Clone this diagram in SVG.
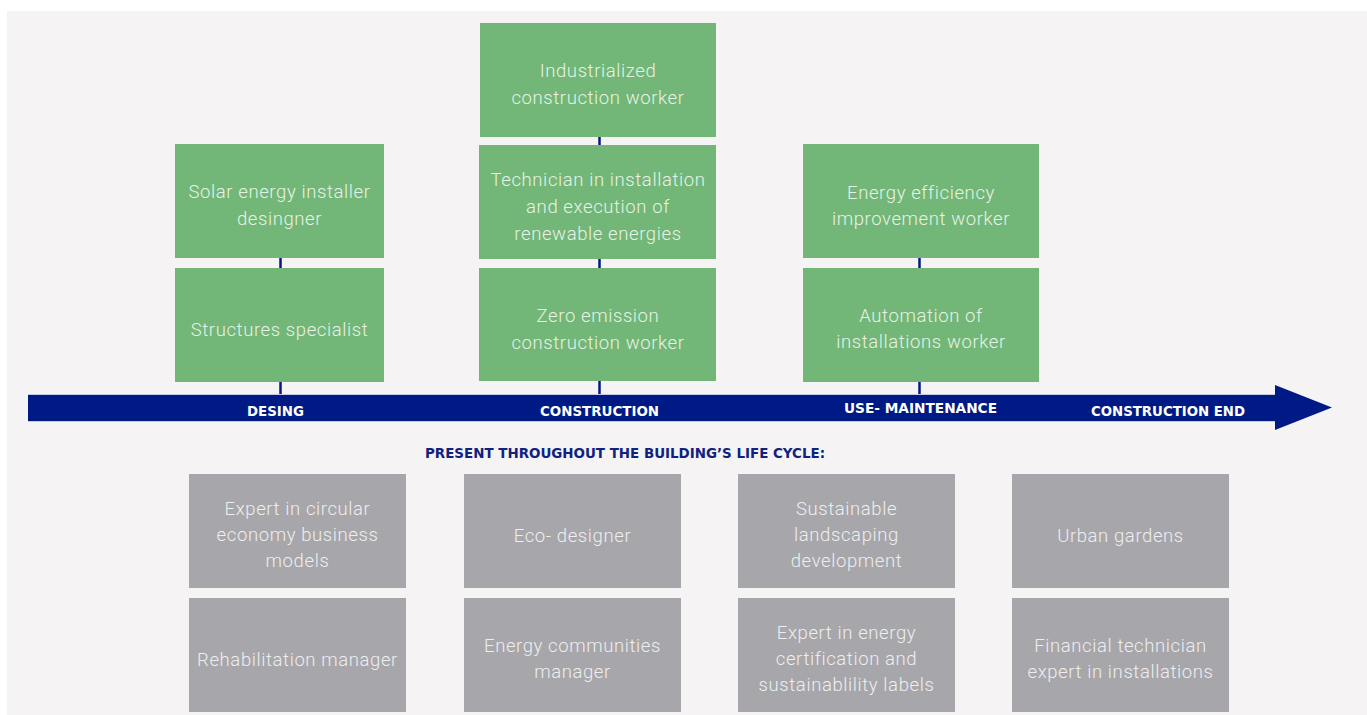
<svg xmlns="http://www.w3.org/2000/svg" width="1367" height="715" viewBox="0 0 1367 715">
<style>
.bg{fill:#f5f3f4}
.g{fill:#72b777}
.s{fill:#a7a6aa}
.tg{font-family:Roboto,"Open Sans",sans-serif;font-weight:300;font-size:18.5px;letter-spacing:0.6px;fill:#e8f2e6;text-anchor:middle}
.ts{font-family:Roboto,"Open Sans",sans-serif;font-weight:300;font-size:18.5px;letter-spacing:0.6px;fill:#eeeef0;text-anchor:middle}
.lbl{font-family:"DejaVu Sans Condensed","DejaVu Sans",sans-serif;font-weight:bold;font-size:14.5px;fill:#ffffff}
.hd{font-family:"DejaVu Sans Condensed","DejaVu Sans",sans-serif;font-weight:bold;font-size:14.5px;fill:#0f2280}
.c{stroke:#001a85;stroke-width:2.5;fill:none}
</style>
<rect x="0" y="0" width="1367" height="715" fill="#ffffff"/>
<rect class="bg" x="7" y="11" width="1360" height="704"/>

<g id="timeline">
<polygon points="28,394 1275,394 1275,385 1332,407.5 1275,430 1275,422 28,422" fill="#001a85"/>
<line x1="28" y1="394.5" x2="1275" y2="394.5" stroke="#c3c8e4" stroke-width="1"/>
<line x1="28" y1="421.5" x2="1275" y2="421.5" stroke="#c3c8e4" stroke-width="1"/>
<text class="lbl" x="247" y="416" textLength="57" lengthAdjust="spacingAndGlyphs">DESING</text>
<text class="lbl" x="540" y="416" textLength="119" lengthAdjust="spacingAndGlyphs">CONSTRUCTION</text>
<text class="lbl" x="844" y="413" textLength="153" lengthAdjust="spacingAndGlyphs">USE- MAINTENANCE</text>
<text class="lbl" x="1091" y="416" textLength="154" lengthAdjust="spacingAndGlyphs">CONSTRUCTION END</text>
</g>

<g id="connectors">
<line class="c" x1="280.5" y1="258" x2="280.5" y2="268"/>
<line class="c" x1="280.5" y1="382" x2="280.5" y2="394"/>
<line class="c" x1="599.5" y1="137" x2="599.5" y2="145"/>
<line class="c" x1="599.5" y1="259" x2="599.5" y2="268"/>
<line class="c" x1="599.5" y1="381" x2="599.5" y2="394"/>
<line class="c" x1="919.5" y1="258" x2="919.5" y2="268"/>
<line class="c" x1="919.5" y1="382" x2="919.5" y2="394"/>
</g>

<g id="solar"><rect class="g" x="175" y="144" width="209" height="114"/>
<text class="tg" x="279.5" y="198">Solar energy installer</text>
<text class="tg" x="279.5" y="225">desingner</text></g>
<g id="structures"><rect class="g" x="175" y="268" width="209" height="114"/>
<text class="tg" x="279.5" y="336">Structures specialist</text></g>

<g id="industrialized"><rect class="g" x="480" y="23" width="236" height="114"/>
<text class="tg" x="598" y="77">Industrialized</text>
<text class="tg" x="598" y="104">construction worker</text></g>
<g id="technician"><rect class="g" x="479" y="145" width="237" height="114"/>
<text class="tg" x="598" y="186">Technician in installation</text>
<text class="tg" x="598" y="213">and execution of</text>
<text class="tg" x="598" y="240">renewable energies</text></g>
<g id="zeroemission"><rect class="g" x="479" y="268" width="237" height="113"/>
<text class="tg" x="598" y="322">Zero emission</text>
<text class="tg" x="598" y="349">construction worker</text></g>

<g id="efficiency"><rect class="g" x="803" y="144" width="236" height="114"/>
<text class="tg" x="921" y="199">Energy efficiency</text>
<text class="tg" x="921" y="225">improvement worker</text></g>
<g id="automation"><rect class="g" x="803" y="268" width="236" height="114"/>
<text class="tg" x="921" y="322">Automation of</text>
<text class="tg" x="921" y="348">installations worker</text></g>

<g id="heading"><text class="hd" x="425" y="458" textLength="400" lengthAdjust="spacingAndGlyphs">PRESENT THROUGHOUT THE BUILDING’S LIFE CYCLE:</text></g>

<g id="circular"><rect class="s" x="189" y="474" width="217" height="114"/>
<text class="ts" x="297.5" y="515">Expert in circular</text>
<text class="ts" x="297.5" y="541">economy business</text>
<text class="ts" x="297.5" y="567">models</text></g>
<g id="ecodesigner"><rect class="s" x="464" y="474" width="217" height="114"/>
<text class="ts" x="572.5" y="542">Eco- designer</text></g>
<g id="landscaping"><rect class="s" x="738" y="474" width="217" height="114"/>
<text class="ts" x="846.5" y="515">Sustainable</text>
<text class="ts" x="846.5" y="541">landscaping</text>
<text class="ts" x="846.5" y="567">development</text></g>
<g id="gardens"><rect class="s" x="1012" y="474" width="217" height="114"/>
<text class="ts" x="1120.5" y="542">Urban gardens</text></g>

<g id="rehabilitation"><rect class="s" x="189" y="598" width="217" height="114"/>
<text class="ts" x="297.5" y="666">Rehabilitation manager</text></g>
<g id="communities"><rect class="s" x="464" y="598" width="217" height="114"/>
<text class="ts" x="572.5" y="652">Energy communities</text>
<text class="ts" x="572.5" y="678">manager</text></g>
<g id="certification"><rect class="s" x="738" y="598" width="217" height="114"/>
<text class="ts" x="846.5" y="639">Expert in energy</text>
<text class="ts" x="846.5" y="665">certification and</text>
<text class="ts" x="846.5" y="691">sustainablility labels</text></g>
<g id="financial"><rect class="s" x="1012" y="598" width="217" height="114"/>
<text class="ts" x="1120.5" y="652">Financial technician</text>
<text class="ts" x="1120.5" y="678">expert in installations</text></g>
</svg>
